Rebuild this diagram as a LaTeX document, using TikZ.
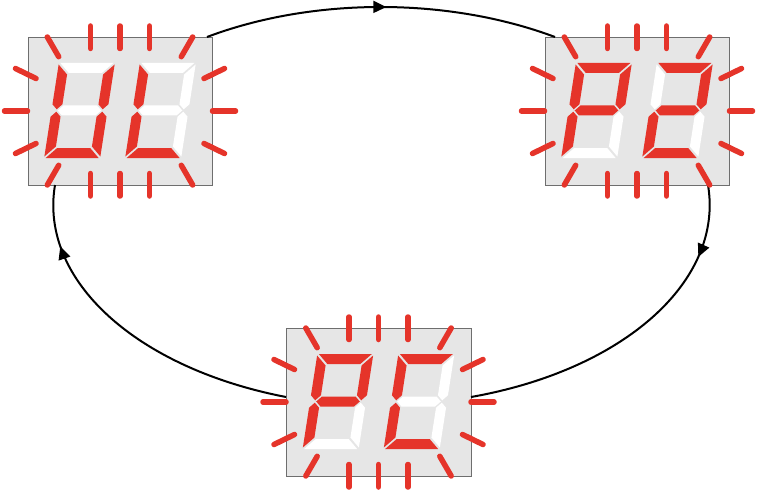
\documentclass[tikz,border=0pt]{standalone}
\usetikzlibrary{arrows.meta,decorations.markings}
\definecolor{lit}{RGB}{229,52,42}
\definecolor{unl}{RGB}{255,255,255}
\definecolor{boxfill}{RGB}{230,230,230}
\definecolor{boxline}{RGB}{110,110,110}
\tikzset{
  dispbox/.style={draw=boxline, line width=0.9pt, fill=boxfill, minimum width=184pt, minimum height=148pt, inner sep=0pt, outer sep=0pt},
  ray/.style={draw=lit, line width=5.5pt, line cap=round},
  conn/.style={draw=black, line width=2pt},
  arrowat/.style={postaction={decorate}, decoration={markings, mark=at position #1 with {\arrow{Triangle[length=13pt,width=12pt]}}}},
}
% one seven-segment digit: #1 position, #2..#8 colours of segments a b c d e f g
\newcommand{\segdigit}[8]{%
  \begin{scope}[shift={#1},xslant=0.155]
    \fill[#2] (-26.5,-47.5) -- (26.5,-47.5) -- (16.5,-37.5) -- (-16.5,-37.5) -- cycle;
    \fill[#3] (28,-46) -- (18,-36) -- (18,-6.2) -- (23,-1.2) -- (28,-6.2) -- cycle;
    \fill[#4] (28,46) -- (18,36) -- (18,6.2) -- (23,1.2) -- (28,6.2) -- cycle;
    \fill[#5] (-26.5,47.5) -- (26.5,47.5) -- (16.5,37.5) -- (-16.5,37.5) -- cycle;
    \fill[#6] (-28,46) -- (-18,36) -- (-18,6.2) -- (-23,1.2) -- (-28,6.2) -- cycle;
    \fill[#7] (-28,-46) -- (-18,-36) -- (-18,-6.2) -- (-23,-1.2) -- (-28,-6.2) -- cycle;
    \fill[#8] (-21.8,0) -- (-16.8,-5) -- (16.8,-5) -- (21.8,0) -- (16.8,5) -- (-16.8,5) -- cycle;
  \end{scope}}
% the sixteen rays round a display
\newcommand{\raysat}[1]{%
  \begin{scope}[shift={#1}]
    \foreach \rx in {-29.5,0,29.5} {
      \draw[ray] (\rx,-85) -- (\rx,-62.5);
      \draw[ray] (\rx,85) -- (\rx,62.5);
    }
    \foreach \ix in {-1,1} {
      \foreach \iy in {-1,1} {
        \draw[ray] (\ix*72.7,\iy*74) -- (\ix*61.3,\iy*54.3);
        \draw[ray] (\ix*104.5,\iy*42.5) -- (\ix*84,\iy*32.5);
      }
      \draw[ray] (\ix*115.5,0) -- (\ix*92.5,0);
    }
  \end{scope}}
\begin{document}
\begin{tikzpicture}[x=1pt,y=-1pt]
  \useasboundingbox (0,0) rectangle (757,492);
  % display boxes
  \node[dispbox] (b1) at (120,111) {};
  \node[dispbox] (b2) at (637,111) {};
  \node[dispbox, minimum width=185pt] (b3) at (378.5,402) {};
  % connectors
  \draw[conn, arrowat=0.515] ([xshift=-5pt]b1.north east) .. controls (313,-3) and (448,-3) .. ([xshift=10pt]b2.north west);
  \draw[conn, arrowat=0.21] ([xshift=71pt]b2.south) .. controls (724,281) and (624,370) .. ([yshift=5pt]b3.east);
  \draw[conn, arrowat=0.82] ([yshift=5pt]b3.west) .. controls (136,368) and (39,280) .. ([xshift=-65pt]b1.south);
  % rays
  \raysat{(b1.center)}
  \raysat{(b2.center)}
  \raysat{(b3.center)}
  % digits: U L
  \segdigit{(79.5,110.5)}{unl}{lit}{lit}{lit}{lit}{lit}{unl}
  \segdigit{(160.5,110.5)}{unl}{unl}{unl}{lit}{lit}{lit}{unl}
  % digits: P 2
  \segdigit{(596.5,110.5)}{lit}{lit}{unl}{unl}{lit}{lit}{lit}
  \segdigit{(677.5,110.5)}{lit}{lit}{unl}{lit}{lit}{unl}{lit}
  % digits: P C
  \segdigit{(338,401.5)}{lit}{lit}{unl}{unl}{lit}{lit}{lit}
  \segdigit{(419,401.5)}{lit}{unl}{unl}{lit}{lit}{lit}{unl}
\end{tikzpicture}
\end{document}
